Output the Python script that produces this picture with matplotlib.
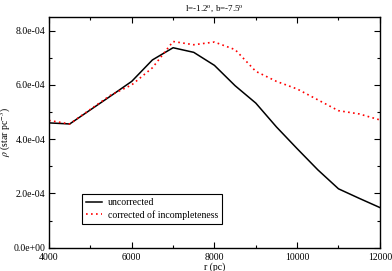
import matplotlib
matplotlib.use("Agg")
import matplotlib.pyplot as plt
from matplotlib.ticker import MultipleLocator, FuncFormatter

r = [4000, 4500, 5000, 5500, 6000, 6500, 7000, 7500, 8000, 8500, 9000, 9500,
     10000, 10500, 11000, 11500, 12000]
uncorrected = [4.60e-4, 4.56e-4, 5.08e-4, 5.60e-4, 6.13e-4, 6.92e-4, 7.37e-4, 7.20e-4,
               6.72e-4, 5.97e-4, 5.33e-4, 4.45e-4, 3.65e-4, 2.87e-4, 2.17e-4, 1.82e-4, 1.48e-4]
corrected = [4.69e-4, 4.56e-4, 5.10e-4, 5.63e-4, 6.00e-4, 6.63e-4, 7.60e-4, 7.48e-4,
             7.58e-4, 7.30e-4, 6.50e-4, 6.13e-4, 5.85e-4, 5.45e-4, 5.05e-4, 4.93e-4, 4.71e-4]

plt.rcParams['font.family'] = ['Liberation Serif', 'DejaVu Serif']
plt.rcParams['mathtext.fontset'] = 'stix'

fig = plt.figure(figsize=(3.92, 2.71), dpi=100)
ax = fig.add_axes([0.125, 0.086, 0.844, 0.851])

ax.plot(r, uncorrected, color='black', lw=1.1, label='uncorrected')
ax.plot(r, corrected, color='red', lw=1.2, ls=(0, (1, 2)), label='corrected of incompleteness')

ax.set_xlim(4000, 12000)
ax.set_ylim(0, 8.5e-4)
ax.xaxis.set_major_locator(MultipleLocator(2000))
ax.xaxis.set_minor_locator(MultipleLocator(1000))
ax.yaxis.set_major_locator(MultipleLocator(2e-4))
ax.yaxis.set_minor_locator(MultipleLocator(1e-4))

def yfmt(v, pos):
    return "%.1e" % v
ax.yaxis.set_major_formatter(FuncFormatter(yfmt))

ax.tick_params(which='both', direction='in', top=True, right=True, labelsize=7, width=0.8)
ax.tick_params(which='major', length=4)
ax.tick_params(axis='y', which='major', pad=2.5)
ax.tick_params(axis='x', which='major', pad=3.5)
ax.tick_params(which='minor', length=2)
for s in ax.spines.values():
    s.set_linewidth(1.0)

ax.set_xlabel('r (pc)', fontsize=7, labelpad=0.5)
ax.set_ylabel(r'$\rho$ (star pc$^{-3}$)', fontsize=7)
ax.yaxis.set_label_coords(-0.108, 0.5)
ax.set_title(r'l=-1.2$^{\rm o}$, b=-7.5$^{\rm o}$', fontsize=6.5, pad=5)

leg = ax.legend(loc='lower left', bbox_to_anchor=(0.1, 0.103), fontsize=7,
                frameon=True, fancybox=False, edgecolor='black', framealpha=1,
                handlelength=1.6, handletextpad=0.6, borderpad=0.45, labelspacing=0.25,
                borderaxespad=0)
leg.get_frame().set_linewidth(0.8)

fig.savefig('out.png', dpi=100)
